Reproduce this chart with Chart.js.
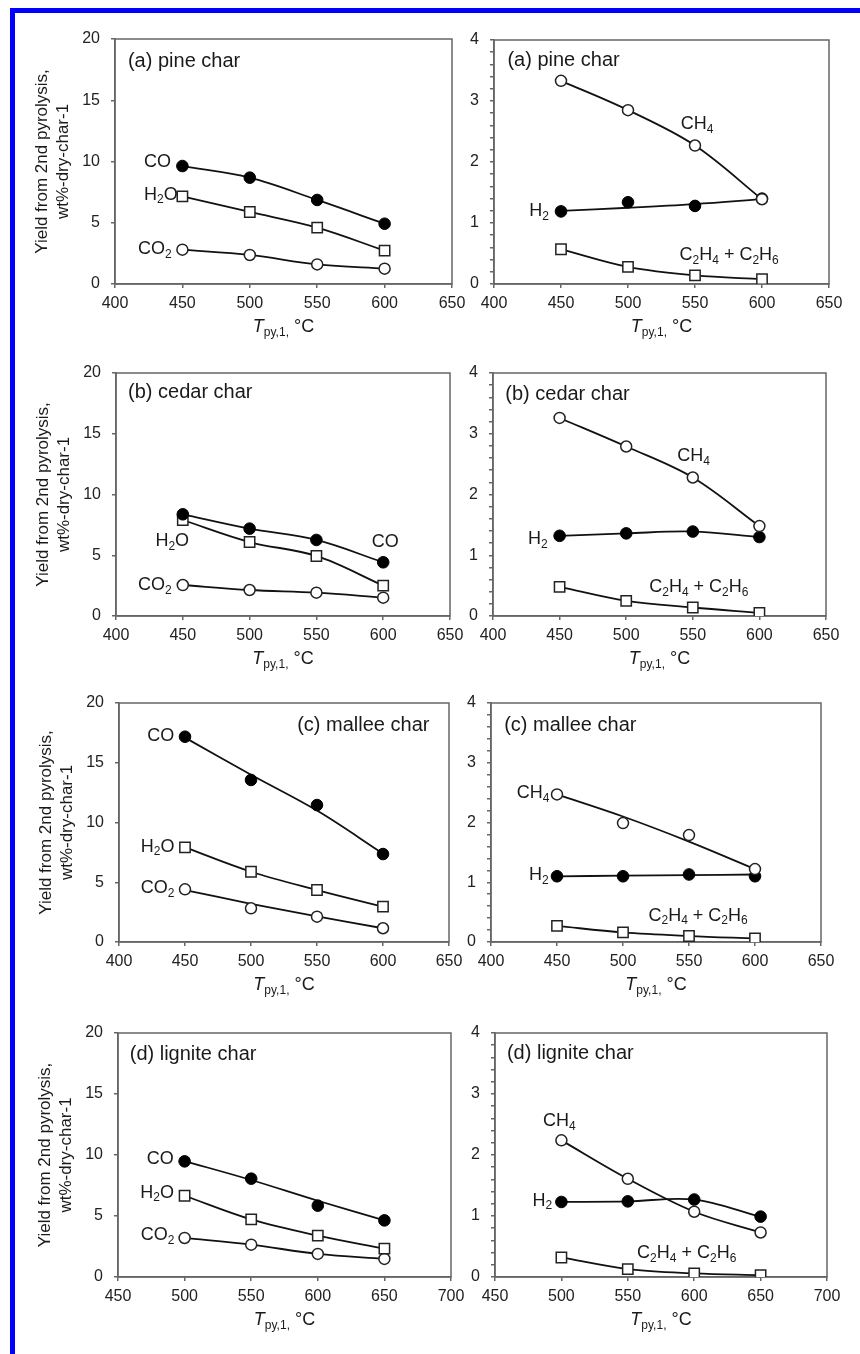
<!DOCTYPE html>
<html>
<head>
<meta charset="utf-8">
<script src="https://cdn.jsdelivr.net/npm/chart.js@4.4.1/dist/chart.umd.min.js"></script>
<style>
    body { margin: 0; background: #fff; width: 860px; height: 1354px; position: relative; overflow: hidden; }
    #frame { position: absolute; left: 10px; top: 8px; right: 0; bottom: 0;
             border-left: 5px solid #0000ff; border-top: 5px solid #0000ff; }
    canvas { position: absolute; }
</style>
</head>
<body>
<div id="frame"></div>
<script>
// ===== Data =====
const woodTemps = [450, 500, 550, 600];
const ligniteTemps = [500, 550, 600, 650];

const pineCO = [9.63, 8.68, 6.86, 4.92];
const pineH2O = [7.16, 5.88, 4.6, 2.72];
const pineCO2 = [2.8, 2.37, 1.6, 1.25];
const pineCH4 = [3.33, 2.85, 2.27, 1.39];
const pineH2 = [1.19, 1.34, 1.28, 1.4];
const pineH2Line = [1.2, 1.25, 1.31, 1.39];
const pineC2 = [0.57, 0.28, 0.14, 0.08];

const cedarCO = [8.37, 7.19, 6.26, 4.42];
const cedarH2O = [7.9, 6.09, 4.94, 2.5];
const cedarCO2 = [2.55, 2.14, 1.92, 1.51];
const cedarCH4 = [3.26, 2.79, 2.28, 1.48];
const cedarH2 = [1.32, 1.36, 1.39, 1.3];
const cedarC2 = [0.48, 0.25, 0.14, 0.05];

const malleeCO = [17.18, 13.56, 11.46, 7.36];
const malleeCOLine = [17.1, 14.0, 11.0, 7.4];
const malleeH2O = [7.92, 5.88, 4.35, 2.96];
const malleeCO2 = [4.41, 2.82, 2.12, 1.15];
const malleeCO2Line = [4.35, 3.2, 2.15, 1.15];
const malleeCH4 = [2.47, 1.99, 1.79, 1.22];
const malleeCH4Line = [2.47, 2.1, 1.68, 1.22];
const malleeH2 = [1.1, 1.1, 1.13, 1.1];
const malleeH2Line = [1.1, 1.11, 1.12, 1.13];
const malleeC2 = [0.27, 0.16, 0.1, 0.06];

const ligniteCO = [9.48, 8.06, 5.85, 4.64];
const ligniteCOLine = [9.5, 7.95, 6.25, 4.64];
const ligniteH2O = [6.66, 4.72, 3.39, 2.32];
const ligniteCO2 = [3.2, 2.65, 1.89, 1.48];
const ligniteCH4 = [2.24, 1.61, 1.07, 0.73];
const ligniteH2 = [1.23, 1.24, 1.27, 0.99];
const ligniteC2 = [0.32, 0.13, 0.06, 0.03];

const woodXTicks = [400, 650];
const ligniteXTicks = [450, 700];
const leftYTicks = [0, 20, 5];
const rightYTicks = [0, 4, 0.2];

const yTitle = ["Yield from 2nd pyrolysis,", "wt%-dry-char-1"];

// ===== Styles =====
const FONT = "'Liberation Sans', Arial, sans-serif";
const INK = "#1a1a1a";
const AXIS = "#666";

const markers = {
    filled: { pointStyle: "circle", pointRadius: 5.8, pointBackgroundColor: "#000", pointBorderColor: "#000", pointBorderWidth: 1 },
    circle: { pointStyle: "circle", pointRadius: 5.5, pointBackgroundColor: "#fff", pointBorderColor: "#222", pointBorderWidth: 1.5 },
    square: { pointStyle: "rect", pointRadius: 7.3, pointBackgroundColor: "#fff", pointBorderColor: "#222", pointBorderWidth: 1.5 }
};

// ===== Panels =====
// area = [left, top, right, bottom] of the plot box on the page
const panels = [
    { area: [115, 39, 452, 284], col: 0, x: woodTemps, xr: woodXTicks, yr: leftYTicks,
      series: [[pineCO, null, "filled"], [pineH2O, null, "square"], [pineCO2, null, "circle"]],
      labels: [["(a) pine char", 409.6, 18.2, "left", 20], ["CO", 441.5, 9.95, "right"], ["H_2O", 446.5, 7.3, "right"], ["CO_2", 442, 2.83, "right"]] },
    { area: [494, 40, 829, 284], col: 1, x: woodTemps, xr: woodXTicks, yr: rightYTicks,
      series: [[pineCH4, null, "circle"], [pineH2, pineH2Line, "filled"], [pineC2, null, "square"]],
      labels: [["(a) pine char", 410, 3.66, "left", 20], ["CH_4", 539.4, 2.62, "left"], ["H_2", 441, 1.2, "right"], ["C_2H_4 + C_2H_6", 538.5, 0.475, "left"]] },
    { area: [116, 373, 450, 616], col: 0, x: woodTemps, xr: woodXTicks, yr: leftYTicks,
      series: [[cedarCO, null, "filled"], [cedarH2O, null, "square"], [cedarCO2, null, "circle"]],
      labels: [["(b) cedar char", 409, 18.4, "left", 20], ["H_2O", 429.5, 6.17, "left"], ["CO", 591.4, 6.06, "left"], ["CO_2", 441.7, 2.55, "right"]] },
    { area: [493, 373, 826, 616], col: 1, x: woodTemps, xr: woodXTicks, yr: rightYTicks,
      series: [[cedarCH4, null, "circle"], [cedarH2, null, "filled"], [cedarC2, null, "square"]],
      labels: [["(b) cedar char", 409.2, 3.65, "left", 20], ["CH_4", 538.3, 2.63, "left"], ["H_2", 441, 1.26, "right"], ["C_2H_4 + C_2H_6", 517.3, 0.48, "left"]] },
    { area: [119, 703, 449, 942], col: 0, x: woodTemps, xr: woodXTicks, yr: leftYTicks,
      series: [[malleeCO, malleeCOLine, "filled"], [malleeH2O, null, "square"], [malleeCO2, malleeCO2Line, "circle"]],
      labels: [["(c) mallee char", 535, 18.16, "left", 20], ["CO", 441.9, 17.2, "right"], ["H_2O", 442, 7.97, "right"], ["CO_2", 442, 4.5, "right"]] },
    { area: [491, 703, 821, 942], col: 1, x: woodTemps, xr: woodXTicks, yr: rightYTicks,
      series: [[malleeCH4, malleeCH4Line, "circle"], [malleeH2, malleeH2Line, "filled"], [malleeC2, null, "square"]],
      labels: [["(c) mallee char", 410, 3.63, "left", 20], ["CH_4", 444.2, 2.49, "right"], ["H_2", 443.7, 1.12, "right"], ["C_2H_4 + C_2H_6", 519.3, 0.44, "left"]] },
    { area: [118, 1033, 451, 1277], col: 0, x: ligniteTemps, xr: ligniteXTicks, yr: leftYTicks,
      series: [[ligniteCO, ligniteCOLine, "filled"], [ligniteH2O, null, "square"], [ligniteCO2, null, "circle"]],
      labels: [["(d) lignite char", 458.8, 18.2, "left", 20], ["CO", 491.9, 9.65, "right"], ["H_2O", 492, 6.91, "right"], ["CO_2", 492.4, 3.44, "right"]] },
    { area: [495, 1033, 827, 1277], col: 1, x: ligniteTemps, xr: ligniteXTicks, yr: rightYTicks,
      series: [[ligniteCH4, null, "circle"], [ligniteH2, null, "filled"], [ligniteC2, null, "square"]],
      labels: [["(d) lignite char", 459, 3.67, "left", 20], ["CH_4", 498.5, 2.56, "center"], ["H_2", 493, 1.25, "right"], ["C_2H_4 + C_2H_6", 557, 0.39, "left"]] }
];

// ===== Text helpers =====
function splitSub(str) {
    const out = [];
    let buf = "";
    for (let i = 0; i < str.length; i++) {
        if (str[i] === "_") {
            if (buf) out.push([buf, false]);
            buf = "";
            out.push([str[i + 1], true]);
            i++;
        } else buf += str[i];
    }
    if (buf) out.push([buf, false]);
    return out;
}

function drawRich(ctx, parts, x, y, align, size) {
    const subSize = Math.round(size * 0.68);
    const fontOf = (p) => (p[2] ? "italic " : "") + (p[1] ? subSize : size) + "px " + FONT;
    let total = 0;
    parts.forEach(p => { ctx.font = fontOf(p); total += ctx.measureText(p[0]).width; });
    let cx = align === "right" ? x - total : align === "center" ? x - total / 2 : x;
    ctx.textAlign = "left";
    ctx.textBaseline = "middle";
    parts.forEach(p => {
        ctx.font = fontOf(p);
        ctx.fillText(p[0], cx, p[1] ? y + size * 0.3 : y);
        cx += ctx.measureText(p[0]).width;
    });
}

const decor = {
    id: "decor",
    beforeDatasetsDraw(chart) {
        const a = chart.chartArea, ctx = chart.ctx;
        ctx.save();
        ctx.strokeStyle = AXIS;
        ctx.lineWidth = 1.5;
        ctx.strokeRect(a.left, a.top, a.right - a.left, a.bottom - a.top);
        ctx.restore();
    },
    afterDraw(chart) {
        const p = chart.options.plugins.decor.panel;
        const a = chart.chartArea, ctx = chart.ctx;
        const sx = chart.scales.x, sy = chart.scales.y;
        ctx.save();
        ctx.fillStyle = INK;
        p.labels.forEach(l => {
            drawRich(ctx, splitSub(l[0]), sx.getPixelForValue(l[1]), sy.getPixelForValue(l[2]), l[3], l[4] || 18);
        });
        // x-axis title
        drawRich(ctx, [["T", false, true], ["py,1,", true], [" °C", false]], (a.left + a.right) / 2, a.bottom + 43, "center", 18);
        // y-axis title, left column only
        if (p.col === 0) {
            const mid = (a.top + a.bottom) / 2;
            ctx.font = "17px " + FONT;
            ctx.textAlign = "center";
            ctx.textBaseline = "middle";
            [[yTitle[0], -73], [yTitle[1], -52]].forEach(t => {
                ctx.save();
                ctx.translate(a.left + t[1], mid);
                ctx.rotate(-Math.PI / 2);
                ctx.fillText(t[0], 0, 0);
                ctx.restore();
            });
        }
        ctx.restore();
    }
};

// ===== Build charts =====
Chart.defaults.font.family = FONT;
Chart.defaults.color = INK;

const Y_AXIS_W = 45;

panels.forEach(p => {
    const [L, T, R, B] = p.area;
    const cLeft = L - 105;
    const cWidth = Math.min(860, R + 32) - cLeft;
    const cTop = T - 30;
    const cHeight = B - T + 90;
    const canvas = document.createElement("canvas");
    canvas.width = cWidth;
    canvas.height = cHeight;
    canvas.style.left = cLeft + "px";
    canvas.style.top = cTop + "px";
    document.body.appendChild(canvas);

    const datasets = [];
    p.series.forEach((s, i) => {
        const [pts, fit, kind] = s;
        const toXY = arr => p.x.map((x, j) => ({ x: x, y: arr[j] }));
        const smooth = { borderColor: "#111", borderWidth: 1.8, tension: 0.35 };
        if (fit) {
            datasets.push(Object.assign({ data: toXY(pts), showLine: false, order: i * 2 }, markers[kind]));
            datasets.push(Object.assign({ data: toXY(fit), pointRadius: 0, order: i * 2 + 1 }, smooth));
        } else {
            datasets.push(Object.assign({ data: toXY(pts), order: i * 2 }, smooth, markers[kind]));
        }
    });

    new Chart(canvas, {
        type: "line",
        data: { datasets: datasets },
        options: {
            responsive: false,
            animation: false,
            events: [],
            layout: { padding: { left: L - cLeft - Y_AXIS_W, right: cLeft + cWidth - R, top: 30, bottom: 30 } },
            plugins: { legend: { display: false }, tooltip: { enabled: false }, decor: { panel: p } },
            scales: {
                x: {
                    type: "linear", min: p.xr[0], max: p.xr[1],
                    afterFit: s => { s.height = 30; },
                    ticks: { stepSize: 50, font: { size: 16 }, color: "#222", padding: 6, maxRotation: 0 },
                    grid: { drawOnChartArea: false, drawTicks: true, tickLength: 4, color: AXIS, lineWidth: 1.5 },
                    border: { display: true, color: AXIS, width: 1.5 }
                },
                y: {
                    min: p.yr[0], max: p.yr[1],
                    afterFit: s => { s.width = Y_AXIS_W; },
                    ticks: {
                        stepSize: p.yr[2], autoSkip: false, font: { size: 16 }, color: "#222", padding: 11,
                        callback: v => (Math.abs(v - Math.round(v)) < 1e-6 ? String(Math.round(v)) : "")
                    },
                    grid: { drawOnChartArea: false, drawTicks: true, tickLength: 4, color: AXIS, lineWidth: 1.5 },
                    border: { display: true, color: AXIS, width: 1.5 }
                }
            }
        },
        plugins: [decor]
    });
});
</script>
</body>
</html>
